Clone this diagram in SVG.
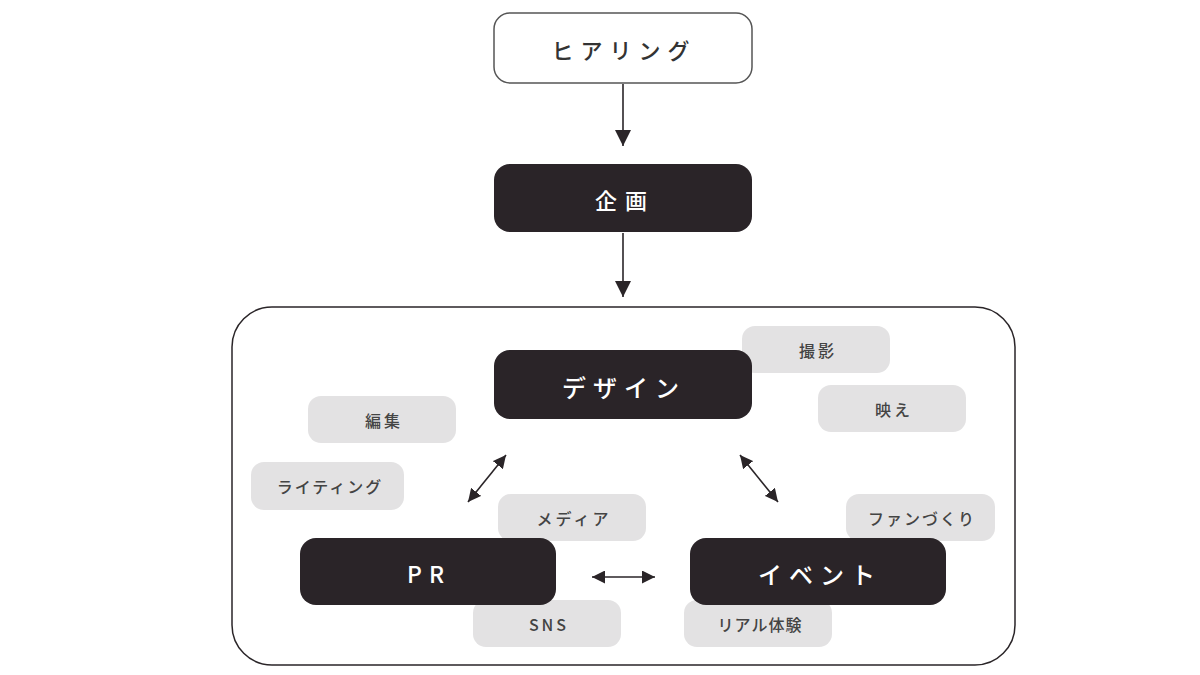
<svg xmlns="http://www.w3.org/2000/svg" width="1200" height="675" viewBox="0 0 1200 675">
<defs>
<marker id="ah" viewBox="0 0 10 10" refX="10" refY="5" markerWidth="13" markerHeight="13" markerUnits="userSpaceOnUse" orient="auto-start-reverse"><path d="M0,0 L10,5 L0,10 z" fill="#2a2528"/></marker>
<marker id="ad" viewBox="0 0 10 10" refX="10" refY="5" markerWidth="16" markerHeight="16" markerUnits="userSpaceOnUse" orient="auto"><path d="M0,0 L10,5 L0,10 z" fill="#2a2528"/></marker>
<style>
.main{fill:#2a2428}
.pill{fill:#e3e2e3}
.mt{font-family:"Noto Sans CJK JP","Noto Sans",sans-serif;font-weight:500;fill:#fff;text-anchor:middle;dominant-baseline:central}
.pt{font-family:"Noto Sans CJK JP","Noto Sans",sans-serif;font-weight:500;fill:#444;font-size:16px;letter-spacing:3px;text-anchor:middle;dominant-baseline:central}
.ln{stroke:#2a2528;stroke-width:1.6;fill:none}
</style>
</defs>
<rect width="1200" height="675" fill="#fff"/>
<g id="container"><rect x="232" y="307" width="783" height="358" rx="40" fill="#fff" stroke="#2a2528" stroke-width="1.5"/></g>
<g id="connectors">
<line class="ln" x1="623" y1="84" x2="623" y2="146" marker-end="url(#ad)"/>
<line class="ln" x1="623" y1="233" x2="623" y2="297" marker-end="url(#ad)"/>
<line class="ln" x1="506" y1="455" x2="468" y2="502" marker-start="url(#ah)" marker-end="url(#ah)"/>
<line class="ln" x1="740" y1="455" x2="778" y2="502" marker-start="url(#ah)" marker-end="url(#ah)"/>
<line class="ln" x1="592" y1="577" x2="655" y2="577" marker-start="url(#ah)" marker-end="url(#ah)"/>
</g>
<g id="hearing"><rect x="494" y="13" width="258" height="70" rx="16" fill="#fff" stroke="#555" stroke-width="1.5"/><text x="624" y="49" class="mt" style="fill:#333;font-size:22px;letter-spacing:7px">ヒアリング</text></g>
<g id="kikaku"><rect class="main" x="494" y="164" width="258" height="68" rx="16"/><text x="625" y="199" class="mt" style="font-size:22px;letter-spacing:8px">企画</text></g>
<g id="satsuei"><rect class="pill" x="742" y="326" width="148" height="47" rx="13"/><text x="818" y="350" class="pt">撮影</text></g>
<g id="hae"><rect class="pill" x="818" y="385" width="148" height="47" rx="13"/><text x="894" y="409" class="pt">映え</text></g>
<g id="henshu"><rect class="pill" x="308" y="396" width="148" height="47" rx="13"/><text x="384" y="420" class="pt">編集</text></g>
<g id="writing"><rect class="pill" x="251" y="462" width="153" height="48" rx="13"/><text x="330" y="486" class="pt" style="letter-spacing:2px">ライティング</text></g>
<g id="media"><rect class="pill" x="498" y="494" width="148" height="47" rx="13"/><text x="574" y="518" class="pt">メディア</text></g>
<g id="fan"><rect class="pill" x="846" y="494" width="149" height="47" rx="13"/><text x="922" y="518" class="pt" style="letter-spacing:2px">ファンづくり</text></g>
<g id="sns"><rect class="pill" x="473" y="600" width="148" height="47" rx="13"/><text x="549" y="624" class="pt">SNS</text></g>
<g id="real"><rect class="pill" x="684" y="600" width="148" height="47" rx="13"/><text x="760" y="624" class="pt" style="letter-spacing:1px">リアル体験</text></g>
<g id="design"><rect class="main" x="494" y="350" width="258" height="69" rx="16"/><text x="624" y="386" class="mt" style="font-size:24px;letter-spacing:7px">デザイン</text></g>
<g id="pr"><rect class="main" x="300" y="538" width="256" height="67" rx="16"/><text x="429" y="573" class="mt" style="font-size:23px;letter-spacing:7px">PR</text></g>
<g id="event"><rect class="main" x="690" y="538" width="256" height="67" rx="16"/><text x="820" y="573" class="mt" style="font-size:24px;letter-spacing:7px">イベント</text></g>
</svg>
